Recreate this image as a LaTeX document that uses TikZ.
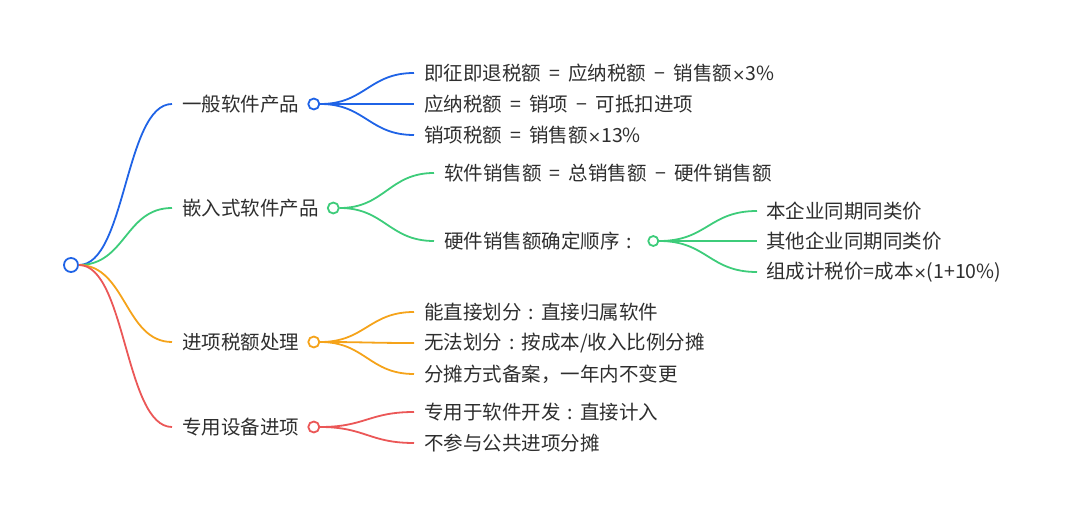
\documentclass[tikz,border=0pt]{standalone}
\usepackage{fontspec}
\setmainfont{Noto Sans CJK SC}
\newfontfamily\latf{DejaVu Sans}
\usetikzlibrary{positioning}
\definecolor{cb}{HTML}{1F63E6}
\definecolor{cg}{HTML}{3DCC7A}
\definecolor{co}{HTML}{F5A31A}
\definecolor{cr}{HTML}{EB5757}
\definecolor{tx}{HTML}{2E2E2E}
\newcommand{\eqs}{\hspace{0.42em}=\hspace{0.42em}}
\newcommand{\mns}{\hspace{0.42em}−\hspace{0.42em}}
\newcommand{\tms}{{\latf\fontsize{16}{20}\selectfont ×}}
\newcommand{\fcol}{\makebox[1em][c]{:}}
\begin{document}
\begin{tikzpicture}[x=1pt,y=-1pt,
  txt/.style={anchor=west, inner sep=0pt, font=\fontsize{19.5}{22}\selectfont, text=tx},
  circ/.style={circle, draw=#1, line width=1.8pt, fill=white, inner sep=0pt, minimum size=11pt},
  br/.style={draw=#1, line width=1.8pt}]
\useasboundingbox (0,0) rectangle (1080,516);
% root
\node[circ=cb, minimum size=14pt] (root) at (71,265) {};
% level 1
\node[txt] (a) at (182,104) {一般软件产品};
\node[circ=cb, right=8pt of a] (ac) {};
\node[txt] (b) at (182,208) {嵌入式软件产品};
\node[circ=cg, right=8pt of b] (bc) {};
\node[txt] (c) at (182,342) {进项税额处理};
\node[circ=co, right=8pt of c] (cc) {};
\node[txt] (d) at (182,427) {专用设备进项};
\node[circ=cr, right=8pt of d] (dc) {};
% level 2
\node[txt] (a1) at (424,73) {即征即退税额\eqs 应纳税额\mns 销售额\tms 3\%};
\node[txt] (a2) at (424,104) {应纳税额\eqs 销项\mns 可抵扣进项};
\node[txt] (a3) at (424,135) {销项税额\eqs 销售额\tms 13\%};
\node[txt] (b1) at (444,173) {软件销售额\eqs 总销售额\mns 硬件销售额};
\node[txt] (b2) at (444,241) {硬件销售额确定顺序\fcol};
\node[circ=cg, minimum size=10pt, right=8pt of b2] (b2c) {};
\node[txt] (c1) at (424,312) {能直接划分\fcol 直接归属软件};
\node[txt] (c2) at (424,343) {无法划分\fcol 按成本/收入比例分摊};
\node[txt] (c3) at (424,374) {分摊方式备案，一年内不变更};
\node[txt] (d1) at (424,412) {专用于软件开发\fcol 直接计入};
\node[txt] (d2) at (424,443) {不参与公共进项分摊};
% level 3
\node[txt] (b21) at (766,211) {本企业同期同类价};
\node[txt] (b22) at (766,241) {其他企业同期同类价};
\node[txt] (b23) at (766,272) {组成计税价=成本\tms(1+10\%)};
% connectors root
\draw[br=cb] (root.east) .. controls +(47,0) and +(-47,0) .. ([xshift=-10pt]a.west);
\draw[br=cg] (root.east) .. controls +(47,0) and +(-47,0) .. ([xshift=-10pt]b.west);
\draw[br=co] (root.east) .. controls +(47,0) and +(-47,0) .. ([xshift=-10pt]c.west);
\draw[br=cr] (root.east) .. controls +(47,0) and +(-47,0) .. ([xshift=-10pt]d.west);
% blue
\foreach \n in {a1,a2,a3}
  \draw[br=cb] (ac.east) .. controls +(45,0) and +(-45,0) .. ([xshift=-10pt]\n.west);
% green
\foreach \n in {b1,b2}
  \draw[br=cg] (bc.east) .. controls +(45,0) and +(-45,0) .. ([xshift=-10pt]\n.west);
\foreach \n in {b21,b22,b23}
  \draw[br=cg] (b2c.east) .. controls +(48,0) and +(-48,0) .. ([xshift=-9pt]\n.west);
% orange
\foreach \n in {c1,c2,c3}
  \draw[br=co] (cc.east) .. controls +(45,0) and +(-45,0) .. ([xshift=-10pt]\n.west);
% red
\foreach \n in {d1,d2}
  \draw[br=cr] (dc.east) .. controls +(45,0) and +(-45,0) .. ([xshift=-10pt]\n.west);
\end{tikzpicture}
\end{document}
